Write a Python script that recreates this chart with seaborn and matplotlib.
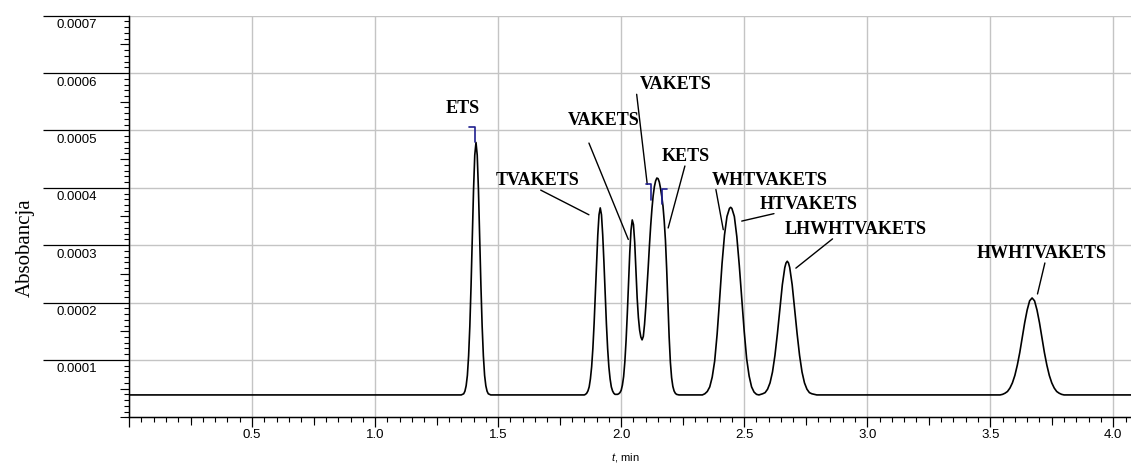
import numpy as np
import pandas as pd
import matplotlib
matplotlib.use("Agg")
import matplotlib.pyplot as plt
import seaborn as sns
from matplotlib.ticker import MultipleLocator
from matplotlib.transforms import offset_copy

# chromatogram trace: time [min], absorbance [x 1e-4]
time_min = [0.00, 1.35,
            # ETS
            1.36, 1.365, 1.37, 1.375, 1.38, 1.385, 1.39, 1.395, 1.40, 1.405, 1.41,
            1.415, 1.42, 1.425, 1.43, 1.435, 1.44, 1.445, 1.45, 1.455, 1.46, 1.47,
            1.85,
            # TVAKETS
            1.855, 1.86, 1.865, 1.87, 1.875, 1.88, 1.885, 1.89, 1.895, 1.90, 1.905,
            1.91, 1.915, 1.92, 1.925, 1.93, 1.935, 1.94, 1.945, 1.95, 1.955, 1.96,
            1.965, 1.97, 1.975,
            # VAKETS / VAKETS / KETS
            1.98, 1.985, 1.99, 1.995, 2.00, 2.005, 2.01, 2.015, 2.02, 2.025, 2.03,
            2.035, 2.04, 2.045, 2.05, 2.055, 2.06, 2.065, 2.07, 2.075, 2.08, 2.085,
            2.09, 2.095, 2.10, 2.105, 2.11, 2.115, 2.12, 2.125, 2.13, 2.135, 2.14,
            2.145, 2.15, 2.155, 2.16, 2.165, 2.17, 2.175, 2.18, 2.185, 2.19, 2.195,
            2.20, 2.205, 2.21, 2.215, 2.22, 2.225, 2.235,
            2.33,
            # WHTVAKETS / HTVAKETS
            2.34, 2.35, 2.36, 2.37, 2.38, 2.39, 2.40, 2.41, 2.42, 2.43, 2.44, 2.445,
            2.45, 2.46, 2.47, 2.48, 2.49, 2.50, 2.51, 2.52, 2.53, 2.54, 2.55, 2.56,
            # LHWHTVAKETS
            2.575, 2.585, 2.595, 2.605, 2.615, 2.625, 2.635, 2.645, 2.655, 2.665,
            2.67, 2.675, 2.68, 2.685, 2.695, 2.705, 2.715, 2.725, 2.735, 2.745,
            2.755, 2.765, 2.775, 2.785, 2.795,
            # HWHTVAKETS
            3.54, 3.55, 3.56, 3.57, 3.58, 3.59, 3.60, 3.61, 3.62, 3.63, 3.64, 3.65,
            3.66, 3.67, 3.68, 3.69, 3.70, 3.71, 3.72, 3.73, 3.74, 3.75, 3.76, 3.77,
            3.78, 3.79, 3.80,
            4.10]

absorb_e4 = [0.39, 0.39,
             0.41, 0.455, 0.55, 0.73, 1.07, 1.59, 2.30, 3.14, 3.96, 4.57, 4.79,
             4.57, 3.96, 3.14, 2.30, 1.59, 1.07, 0.73, 0.55, 0.455, 0.41, 0.39,
             0.39,
             0.40, 0.42, 0.46, 0.53, 0.67, 0.88, 1.20, 1.63, 2.15, 2.70, 3.18,
             3.53, 3.65, 3.53, 3.18, 2.70, 2.15, 1.63, 1.20, 0.88, 0.67, 0.53,
             0.46, 0.42, 0.40,
             0.40, 0.40, 0.41, 0.43, 0.47, 0.56, 0.71, 0.97, 1.34, 1.81, 2.35,
             2.87, 3.26, 3.44, 3.36, 3.05, 2.57, 2.08, 1.74, 1.52, 1.40, 1.35,
             1.41, 1.62, 1.92, 2.26, 2.62, 3.00, 3.34, 3.63, 3.86, 4.02, 4.12,
             4.17, 4.16, 4.10, 3.99, 3.85, 3.68, 3.42, 3.08, 2.58, 1.98, 1.40,
             0.96, 0.69, 0.54, 0.46, 0.42, 0.40, 0.39,
             0.39,
             0.41, 0.45, 0.53, 0.70, 0.98, 1.45, 2.05, 2.68, 3.18, 3.50, 3.64, 3.66,
             3.64, 3.50, 3.15, 2.65, 2.08, 1.50, 1.02, 0.72, 0.53, 0.44, 0.40, 0.39,
             0.41, 0.43, 0.49, 0.60, 0.79, 1.08, 1.46, 1.89, 2.31, 2.61,
             2.69, 2.72, 2.69, 2.61, 2.31, 1.89, 1.46, 1.08, 0.79, 0.60,
             0.49, 0.43, 0.41, 0.40, 0.39,
             0.39, 0.40, 0.42, 0.45, 0.51, 0.60, 0.73, 0.91, 1.13, 1.39, 1.65, 1.87,
             2.03, 2.08, 2.03, 1.87, 1.65, 1.39, 1.13, 0.91, 0.73, 0.60, 0.51, 0.45,
             0.42, 0.40, 0.39,
             0.39]

# peak labels (centre time, baseline absorbance x1e-4)
peak_names = ["ETS", "TVAKETS", "VAKETS", "VAKETS", "KETS", "WHTVAKETS",
              "HTVAKETS", "LHWHTVAKETS", "HWHTVAKETS"]
label_t = [1.355, 1.662, 1.927, 2.221, 2.262, 2.605, 2.762, 2.952, 3.707]
label_a = [5.31, 4.056, 5.10, 5.72, 4.46, 4.056, 3.63, 3.203, 2.776]

# leader lines (from label to peak), ETS has none
lead_t0 = [np.nan, 1.673, 1.869, 2.063, 2.259, 2.385, 2.621, 2.859, 3.722]
lead_a0 = [np.nan, 3.96, 4.78, 5.63, 4.38, 3.97, 3.55, 3.11, 2.69]
lead_t1 = [np.nan, 1.869, 2.029, 2.106, 2.191, 2.415, 2.490, 2.710, 3.692]
lead_a1 = [np.nan, 3.53, 3.10, 4.06, 3.30, 3.27, 3.42, 2.60, 2.15]

# integration marks (blue brackets)
mark_t_start = [1.383, 2.100, 2.186]
mark_t_end = [1.407, 2.120, 2.164]
mark_top = [5.06, 4.06, 3.98]
mark_bottom = [4.79, 3.79, 3.71]

x_ticks = [0.0, 0.5, 1.0, 1.5, 2.0, 2.5, 3.0, 3.5, 4.0]
x_tick_labels = ["", "0.5", "1.0", "1.5", "2.0", "2.5", "3.0", "3.5", "4.0"]
x_mid_ticks = [0.25, 0.75, 1.25, 1.75, 2.25, 2.75, 3.25, 3.75]
y_ticks = [0.0001, 0.0002, 0.0003, 0.0004, 0.0005, 0.0006, 0.0007]
y_tick_labels = ["0.0001", "0.0002", "0.0003", "0.0004", "0.0005", "0.0006", "0.0007"]
y_mid_ticks = [0.0, 0.00005, 0.00015, 0.00025, 0.00035, 0.00045, 0.00055, 0.00065]

sns.set_style("ticks", {"axes.edgecolor": "black", "xtick.color": "black",
                        "ytick.color": "black", "text.color": "black",
                        "axes.labelcolor": "black"})
plt.rcParams['font.family'] = ['Liberation Sans', 'DejaVu Sans']
plt.rcParams['mathtext.fontset'] = 'custom'
plt.rcParams['mathtext.it'] = 'Liberation Sans:italic'
plt.rcParams['mathtext.rm'] = 'Liberation Sans'

fig = plt.figure(figsize=(11.31, 4.63), dpi=100)
ax = fig.add_axes([0.1141, 0.0987, 0.8859, 0.8674])

df = pd.DataFrame({"t": time_min, "A": np.array(absorb_e4) * 1e-4})
sns.lineplot(data=df, x="t", y="A", ax=ax, color="black", linewidth=1.2,
             estimator=None, sort=False)

ax.set_xlim(0, 4.072)
ax.set_ylim(0, 0.0007)
sns.despine(ax=ax)
for s in ["left", "bottom"]:
    ax.spines[s].set_linewidth(1.0)

ax.grid(True, which="major", color="#c4c4c4", linewidth=1.0)
ax.set_axisbelow(True)

# x axis
ax.set_xticks(x_ticks)
ax.set_xticklabels(x_tick_labels)
ax.xaxis.set_minor_locator(MultipleLocator(0.05))
ax.tick_params(axis="x", which="major", length=7.2, width=0.9, pad=1.5, labelsize=9.5)
ax.tick_params(axis="x", which="minor", length=3.6, width=0.8)
sx = ax.secondary_xaxis("bottom")
sx.set_ticks(x_mid_ticks)
sx.tick_params(length=5.8, width=0.8, labelbottom=False)

# y axis: long ticks, labels under them
ax.set_yticks(y_ticks)
ax.set_yticklabels([])
ax.yaxis.set_minor_locator(MultipleLocator(0.00001))
ax.tick_params(axis="y", which="major", length=62, width=0.9)
ax.tick_params(axis="y", which="minor", length=3.6, width=0.8)
sy = ax.secondary_yaxis("left")
sy.set_ticks(y_mid_ticks)
sy.tick_params(length=6.5, width=0.8, labelleft=False)

lab_trans = offset_copy(ax.get_yaxis_transform(), fig=fig, y=-3.5, units="dots")
for v, lab in zip(y_ticks, y_tick_labels):
    ax.text(-0.0722, v, lab, transform=lab_trans, ha="left", va="top", fontsize=9.5)

ax.set_ylabel("Absobancja", fontfamily=["Liberation Serif"], fontsize=15)
ax.yaxis.set_label_coords(-0.0938, 0.4216)
ax.set_xlabel("$t$, min", fontsize=8)
ax.xaxis.set_label_coords(0.495, -0.085)

# peak labels and leaders
for i in range(len(peak_names)):
    ax.text(label_t[i], label_a[i] * 1e-4, peak_names[i], ha="center", va="baseline",
            fontsize=13, fontweight="bold", fontfamily=["Liberation Serif"])
    if not np.isnan(lead_t0[i]):
        ax.plot([lead_t0[i], lead_t1[i]], [lead_a0[i] * 1e-4, lead_a1[i] * 1e-4],
                color="black", linewidth=1.0)

for i in range(len(mark_top)):
    ax.plot([mark_t_start[i], mark_t_end[i], mark_t_end[i]],
            [mark_top[i] * 1e-4, mark_top[i] * 1e-4, mark_bottom[i] * 1e-4],
            color="#1f1f8f", linewidth=1.2)

fig.savefig("out.png", dpi=100)
